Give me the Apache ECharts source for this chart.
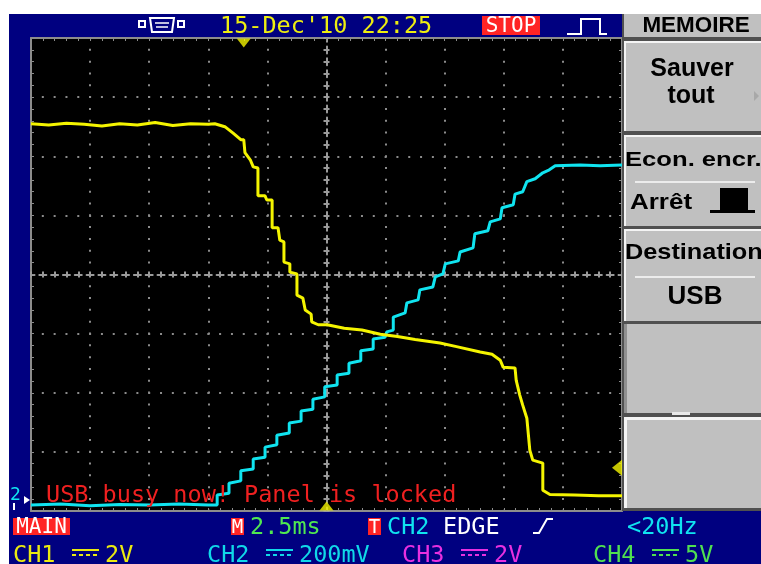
<!DOCTYPE html>
<html>
<head>
<meta charset="utf-8">
<script src="https://cdn.jsdelivr.net/npm/echarts@6/dist/echarts.min.js"></script>
<style>
html, body { margin: 0; padding: 0; background: #fff; }
#chart { width: 761px; height: 564px; }
</style>
</head>
<body>
<div id="chart"></div>
<script>
// screen divisions: x -5..5 (2.5ms/div), y -4..4
const ch1Trace = [
    [-5.00, 2.55], [-4.70, 2.53], [-4.40, 2.56], [-4.10, 2.54], [-3.80, 2.51], [-3.50, 2.55],
    [-3.20, 2.53], [-2.90, 2.57], [-2.60, 2.52], [-2.30, 2.55], [-2.00, 2.54], [-1.89, 2.55],
    [-1.72, 2.50], [-1.58, 2.39], [-1.45, 2.28], [-1.40, 2.28], [-1.38, 2.06], [-1.29, 1.94],
    [-1.24, 1.82], [-1.16, 1.80], [-1.16, 1.33], [-1.04, 1.33], [-1.01, 1.26], [-0.92, 1.26],
    [-0.92, 0.79], [-0.82, 0.79], [-0.79, 0.58], [-0.72, 0.55], [-0.72, 0.21], [-0.62, 0.18],
    [-0.62, 0.04], [-0.50, 0.01], [-0.50, -0.35], [-0.40, -0.40], [-0.36, -0.60], [-0.26, -0.67],
    [-0.25, -0.80], [-0.14, -0.85], [0.01, -0.85], [0.30, -0.91], [0.60, -0.94], [0.91, -1.01],
    [1.20, -1.05], [1.50, -1.10], [1.92, -1.16], [2.20, -1.22], [2.60, -1.31], [2.80, -1.35],
    [2.94, -1.45], [2.99, -1.57], [3.19, -1.58], [3.21, -1.79], [3.27, -2.04], [3.32, -2.21],
    [3.39, -2.43], [3.44, -2.97], [3.49, -3.14], [3.66, -3.19], [3.66, -3.65], [3.78, -3.72],
    [4.20, -3.73], [4.60, -3.74], [5.00, -3.74],
];
const ch2Trace = [
    [-5.00, -3.90], [-4.50, -3.88], [-4.00, -3.91], [-3.50, -3.89], [-3.00, -3.90], [-2.50, -3.88],
    [-2.00, -3.90], [-1.85, -3.90], [-1.85, -3.73], [-1.65, -3.70], [-1.65, -3.53], [-1.45, -3.49],
    [-1.45, -3.32], [-1.24, -3.29], [-1.24, -3.12], [-1.04, -3.09], [-1.04, -2.92], [-0.84, -2.88],
    [-0.84, -2.72], [-0.63, -2.68], [-0.63, -2.51], [-0.43, -2.48], [-0.43, -2.31], [-0.23, -2.28],
    [-0.23, -2.11], [-0.03, -2.07], [-0.03, -1.90], [0.18, -1.87], [0.18, -1.70], [0.38, -1.67],
    [0.38, -1.50], [0.58, -1.46], [0.58, -1.29], [0.79, -1.26], [0.79, -1.09], [0.99, -1.06],
    [1.02, -0.97], [1.13, -0.94], [1.13, -0.72], [1.33, -0.65], [1.36, -0.48], [1.55, -0.43],
    [1.58, -0.26], [1.80, -0.21], [1.84, -0.04], [1.97, 0.01], [2.01, 0.18], [2.23, 0.23],
    [2.26, 0.38], [2.48, 0.45], [2.51, 0.69], [2.73, 0.74], [2.77, 0.89], [2.94, 0.94],
    [2.97, 1.13], [3.16, 1.18], [3.19, 1.36], [3.32, 1.40], [3.39, 1.57], [3.53, 1.62],
    [3.66, 1.72], [3.77, 1.77], [3.87, 1.84], [4.29, 1.85], [4.63, 1.84], [5.00, 1.85],
];
const trigPosMark = [[-1.40, 4]];
const trigTimeMark = [[0, -4]];
const trigLevelMark = [[5, -3.27]];

const sDate = "15-Dec'10 22:25";
const sBusy = 'USB busy now! Panel is locked';
const aChannels = [
    { name: 'CH1', scale: '2V', x: 13, color: '#eaea10' },
    { name: 'CH2', scale: '200mV', x: 207, color: '#10d8e8' },
    { name: 'CH3', scale: '2V', x: 402, color: '#e830e0' },
    { name: 'CH4', scale: '5V', x: 593, color: '#50e050' },
];

const GRAY = '#8c8c8c';
const MONO = '"DejaVu Sans Mono", monospace';
const SANS = '"Liberation Sans", Arial, sans-serif';
const YEL = '#f4f400';
const CYAN = '#10e4f0';
const FS = 23.5; // 字宽约14px

function frameAxis(min, max, pos, opts){
    return Object.assign({
        type: 'value', min, max, interval: 1, position: pos,
        axisLine: { show: true, onZero: false, lineStyle: { color: GRAY, width: 2 } },
        axisTick: { show: true, inside: true, length: 3, lineStyle: { color: GRAY, width: 1 } },
        minorTick: { show: true, splitNumber: 5, length: 3, lineStyle: { color: GRAY, width: 1 } },
        axisLabel: { show: false },
        splitLine: { show: false },
        axisPointer: { show: false },
    }, opts);
}
const dotLine = { show: true, lineStyle: { color: GRAY, width: 2, type: [2, 9.82], dashOffset: 1 } };
const crossLine = { show: true, onZero: true, onZeroAxisIndex: 0, lineStyle: { color: '#9a9a9a', width: 2, type: [7, 4.82], dashOffset: 3.5 } };
const crossTick = (inside) => ({ show: true, inside, length: 3, lineStyle: { color: '#9a9a9a', width: 2 } });
const crossMinor = { show: true, splitNumber: 5, length: 3, lineStyle: { color: '#9a9a9a', width: 2 } };

function txt(x, y, text, color, size, align){
    return {
        type: 'text', x, y, z: 20,
        style: { text, fill: color, fontFamily: MONO, fontSize: size, align: align || 'left', verticalAlign: 'middle' },
    };
}
function box(x, y, w, h, fill, z){
    return { type: 'rect', z: z || 15, shape: { x, y, width: w, height: h }, style: { fill } };
}
function pline(points, color, width, z){
    return { type: 'polyline', z: z || 20, shape: { points }, style: { stroke: color, lineWidth: width, fill: null } };
}

const aGraphic = [];
// frame
aGraphic.push(box(9, 14, 752, 550, '#000080', -5));
// header
aGraphic.push(txt(220, 26.5, sDate, '#eeee10', FS));
aGraphic.push(box(482, 16, 58, 19, '#ff2424'));
aGraphic.push(txt(511, 26.5, 'STOP', '#fff', 21, 'center'));
aGraphic.push(pline([[567, 34], [581, 34], [581, 19], [600, 19], [600, 34], [607, 34]], '#fff', 2));
// connector icon
aGraphic.push({ type: 'rect', z: 20, shape: { x: 139, y: 21, width: 6, height: 6 }, style: { stroke: '#fff', lineWidth: 2, fill: null } });
aGraphic.push({ type: 'rect', z: 20, shape: { x: 178, y: 21, width: 6, height: 6 }, style: { stroke: '#fff', lineWidth: 2, fill: null } });
aGraphic.push({ type: 'polygon', z: 20, shape: { points: [[150, 18], [174, 18], [172, 32], [152, 32]] }, style: { stroke: '#fff', lineWidth: 2, fill: null } });
aGraphic.push(pline([[155, 23], [169, 23]], '#fff', 1.5));
aGraphic.push(pline([[156, 27], [168, 27]], '#fff', 1.5));
// busy message
aGraphic.push(txt(46, 495.5, sBusy, '#f02020', FS));
// ground marker of CH2
aGraphic.push(txt(10, 495, '2', CYAN, 18));
aGraphic.push({ type: 'polygon', z: 20, shape: { points: [[24, 496], [30, 500], [24, 504]] }, style: { fill: '#fff' } });
aGraphic.push(pline([[14, 503], [14, 510]], '#fff', 2));
// status line 1
aGraphic.push(box(13, 518, 57, 17, '#ff2424'));
aGraphic.push(txt(41.5, 528, 'MAIN', '#fff', 21, 'center'));
aGraphic.push(box(231, 518, 13, 17, '#ff2424'));
aGraphic.push(txt(237.5, 528, 'M', '#fff', 19, 'center'));
aGraphic.push(txt(250, 528, '2.5ms', '#50e850', FS));
aGraphic.push(box(368, 518, 13, 17, '#ff2424'));
aGraphic.push(txt(374.5, 528, 'T', '#fff', 19, 'center'));
aGraphic.push(txt(387, 528, 'CH2', CYAN, FS));
aGraphic.push(txt(443, 528, 'EDGE', '#fff', FS));
aGraphic.push(pline([[533, 533], [539, 533], [547, 519], [553, 519]], '#fff', 2));
aGraphic.push(txt(627, 528, '<20Hz', CYAN, FS));
// status line 2
aChannels.forEach(ch => {
    aGraphic.push(txt(ch.x, 555.5, ch.name, ch.color, FS));
    const x0 = ch.x + 59;
    aGraphic.push(pline([[x0, 550], [x0 + 27, 550]], ch.color, 2));
    aGraphic.push({ type: 'line', z: 20, shape: { x1: x0, y1: 555, x2: x0 + 27, y2: 555 }, style: { stroke: ch.color, lineWidth: 2, lineDash: [4, 3] } });
    aGraphic.push(txt(x0 + 33, 555.5, ch.scale, ch.color, FS));
});

// right menu
aGraphic.push(box(622, 14, 139, 497, '#505050', 14));
const aBoxes = [[14, 37, 0], [41, 131, 1], [135, 226, 1], [229, 321, 1], [324, 413, 2], [417, 508, 3]];
aBoxes.forEach(([y0, y1, hl]) => {
    aGraphic.push(box(624, y0, 137, y1 - y0, '#c0c0c0'));
    if (hl === 1 || hl === 3) {
        const t = hl === 3 ? 3 : 2;
        aGraphic.push(box(624, y0, 137, t, '#f4f4f4', 16));
        aGraphic.push(box(624, y0, t, y1 - y0, '#f4f4f4', 16));
    }
    if (hl === 2) aGraphic.push(box(624, y0, 3, y1 - y0, '#909090', 16));
});
aGraphic.push(box(672, 412, 18, 3, '#e8e8e8', 16));
function menuTxt(x, y, text, size, align, sx){
    return {
        type: 'text', x, y, z: 20, scaleX: sx || 1,
        style: { text, fill: '#000', fontFamily: SANS, fontWeight: 'bold', fontSize: size, align, verticalAlign: 'middle' },
    };
}
aGraphic.push(menuTxt(696, 26, 'MEMOIRE', 22, 'center', 1.02));
aGraphic.push(menuTxt(692, 69, 'Sauver', 25, 'center'));
aGraphic.push(menuTxt(691, 96, 'tout', 25, 'center'));
aGraphic.push({ type: 'polygon', z: 20, shape: { points: [[754, 91], [759, 96], [754, 101]] }, style: { fill: '#a8a8a8' } });
aGraphic.push(menuTxt(625, 160, 'Econ. encr.', 21, 'left', 1.22));
aGraphic.push(box(635, 181, 120, 2, '#ececec', 17));
aGraphic.push(menuTxt(630, 203, 'Arrêt', 22, 'left', 1.18));
aGraphic.push({ type: 'polygon', z: 20, shape: { points: [[710, 213], [710, 210], [720, 210], [720, 188], [748, 188], [748, 210], [755, 210], [755, 213]] }, style: { fill: '#000' } });
aGraphic.push(menuTxt(625, 253, 'Destination', 22, 'left', 1.15));
aGraphic.push(box(635, 276, 120, 2, '#ececec', 17));
aGraphic.push(menuTxt(695, 297, 'USB', 26, 'center'));

const myChart = echarts.init(document.getElementById('chart'), null, { renderer: 'canvas' });
const option = {
    animation: false,
    grid: { left: 31, top: 38, width: 591, height: 473, show: true, backgroundColor: '#000', borderWidth: 0 },
    xAxis: [
        frameAxis(-5, 5, 'bottom', { splitLine: dotLine }),
        frameAxis(-5, 5, 'top'),
        frameAxis(-5, 5, 'bottom', { axisLine: crossLine, axisTick: crossTick(true), minorTick: crossMinor }),
        frameAxis(-5, 5, 'bottom', { axisLine: Object.assign({}, crossLine, { lineStyle: { opacity: 0 } }), axisTick: crossTick(false), minorTick: crossMinor }),
    ],
    yAxis: [
        frameAxis(-4, 4, 'left', { splitLine: dotLine }),
        frameAxis(-4, 4, 'right'),
        frameAxis(-4, 4, 'left', { axisLine: crossLine, axisTick: crossTick(true), minorTick: crossMinor }),
        frameAxis(-4, 4, 'left', { axisLine: Object.assign({}, crossLine, { lineStyle: { opacity: 0 } }), axisTick: crossTick(false), minorTick: crossMinor }),
    ],
    series: [
        { type: 'line', name: 'CH1', data: ch1Trace, symbol: 'none', lineStyle: { color: YEL, width: 3 }, z: 5 },
        { type: 'line', name: 'CH2', data: ch2Trace, symbol: 'none', lineStyle: { color: CYAN, width: 3 }, z: 4 },
        { type: 'scatter', data: trigPosMark, symbol: 'triangle', symbolSize: [14, 9], symbolRotate: 180, symbolOffset: [0, 5], itemStyle: { color: YEL }, clip: false, silent: true, z: 6 },
        { type: 'scatter', data: trigTimeMark, symbol: 'triangle', symbolSize: [14, 9], symbolOffset: [0, -5], itemStyle: { color: YEL }, clip: false, silent: true, z: 6 },
        { type: 'scatter', data: trigLevelMark, symbol: 'triangle', symbolSize: [16, 10], symbolRotate: 90, symbolOffset: [-5, 0], itemStyle: { color: YEL }, clip: false, silent: true, z: 6 },
    ],
    graphic: { elements: aGraphic },
};
myChart.setOption(option);
</script>
</body>
</html>
